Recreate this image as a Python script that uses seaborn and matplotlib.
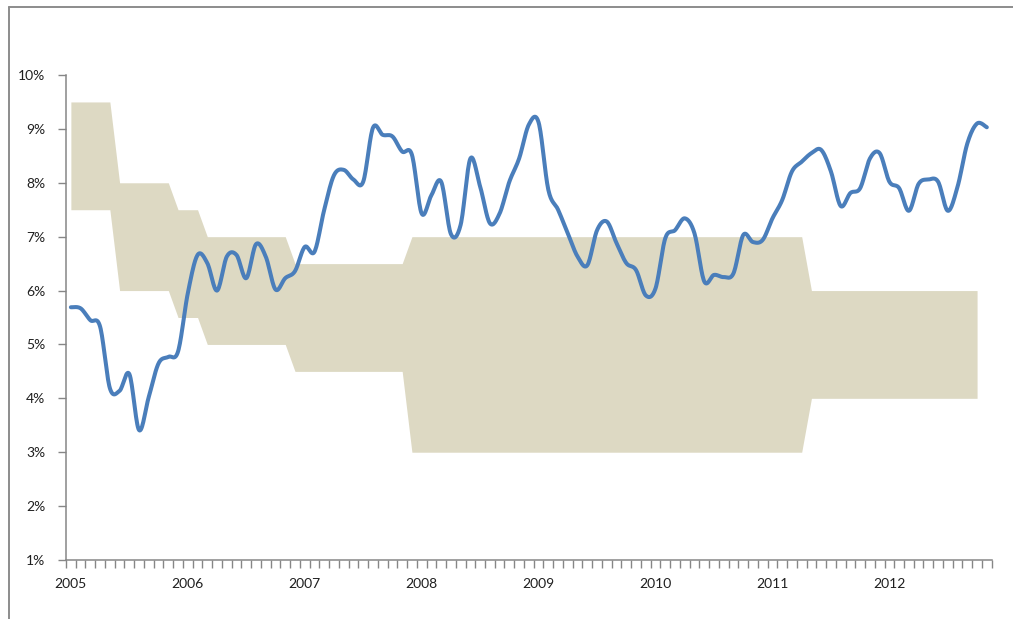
import numpy as np
import pandas as pd
import matplotlib
matplotlib.use("Agg")
import matplotlib.pyplot as plt
import seaborn as sns
from matplotlib.lines import Line2D

# ---------------- data (monthly, Jan 2005 .. Nov 2012) ----------------
year_labels = ["2005", "2006", "2007", "2008", "2009", "2010", "2011", "2012"]

rate = [
    5.69, 5.67, 5.45, 5.33, 4.19, 4.14, 4.45, 3.41, 4.03, 4.65, 4.77, 4.87,   # 2005
    5.95, 6.66, 6.51, 6.00, 6.63, 6.66, 6.23, 6.86, 6.63, 6.02, 6.23, 6.36,   # 2006
    6.81, 6.72, 7.50, 8.14, 8.24, 8.06, 8.02, 9.02, 8.89, 8.86, 8.58, 8.52,   # 2007
    7.43, 7.77, 8.02, 7.05, 7.22, 8.45, 7.93, 7.25, 7.43, 8.02, 8.45, 9.08,   # 2008
    9.12, 7.87, 7.50, 7.06, 6.63, 6.47, 7.12, 7.28, 6.88, 6.51, 6.38, 5.91,   # 2009
    6.04, 6.97, 7.12, 7.34, 7.06, 6.17, 6.29, 6.25, 6.32, 7.03, 6.90, 6.94,   # 2010
    7.34, 7.68, 8.21, 8.39, 8.55, 8.61, 8.21, 7.57, 7.81, 7.90, 8.45, 8.55,   # 2011
    8.02, 7.90, 7.48, 7.98, 8.06, 8.02, 7.48, 7.93, 8.73, 9.10, 9.03,         # 2012
]

band_upper = [9.5] * 5 + [8.0] * 6 + [7.5] * 3 + [7.0] * 9 + [6.5] * 12 + [7.0] * 41 + [6.0] * 18
band_lower = [7.5] * 5 + [6.0] * 6 + [5.5] * 3 + [5.0] * 9 + [4.5] * 12 + [3.0] * 41 + [4.0] * 18

y_ticks = [1, 2, 3, 4, 5, 6, 7, 8, 9, 10]

# ---------------- styling ----------------
W, H, DPI = 1013, 619, 100
sns.set_theme(style="white")
plt.rcParams["font.family"] = ["Lato", "DejaVu Sans"]

line_color = "#4A7EBB"
band_color = "#DDD9C3"
axis_color = "#868686"
text_color = "#1f1f1f"

fig = plt.figure(figsize=(W / DPI, H / DPI), dpi=DPI)
fig.patch.set_facecolor("white")
ax = fig.add_axes([66 / W, 1 - 560 / H, (991.7 - 66) / W, (560 - 75) / H])
ax.set_facecolor("white")

n = len(rate)

# band (area between lower & upper bounds)
bidx = np.arange(len(band_upper))
ax.fill_between(bidx, band_lower, band_upper, color=band_color, linewidth=0, zorder=1)

# smoothed line (Excel-style Catmull-Rom / Bezier smoothing between monthly points)
P = np.array(rate, dtype=float)
xs, ys = [], []
for i in range(n - 1):
    p0 = P[i - 1] if i > 0 else P[i]
    p1, p2 = P[i], P[i + 1]
    p3 = P[i + 2] if i + 2 < n else P[i + 1]
    x0 = i - 1 if i > 0 else i
    x3 = i + 2 if i + 2 < n else i + 1
    c1y = p1 + (p2 - p0) / 6.0
    c2y = p2 - (p3 - p1) / 6.0
    c1x = i + (i + 1 - x0) / 6.0
    c2x = (i + 1) - (x3 - i) / 6.0
    t = np.linspace(0, 1, 16, endpoint=(i == n - 2))
    bx = (1 - t) ** 3 * i + 3 * (1 - t) ** 2 * t * c1x + 3 * (1 - t) * t ** 2 * c2x + t ** 3 * (i + 1)
    by = (1 - t) ** 3 * p1 + 3 * (1 - t) ** 2 * t * c1y + 3 * (1 - t) * t ** 2 * c2y + t ** 3 * p2
    xs.extend(bx)
    ys.extend(by)
smooth = pd.DataFrame({"x": xs, "y": ys})
sns.lineplot(data=smooth, x="x", y="y", ax=ax, color=line_color, linewidth=2.9,
             sort=False, estimator=None, zorder=3)
ax.lines[-1].set_solid_capstyle("round")
ax.lines[-1].set_solid_joinstyle("round")

# axes limits
ax.set_xlim(-0.5, n - 0.5)
ax.set_ylim(1, 10)
ax.set_xlabel("")
ax.set_ylabel("")

# y axis
ax.set_yticks(y_ticks)
ax.set_yticklabels([f"{v}%" for v in y_ticks], color=text_color, fontsize=10)
ax.tick_params(axis="y", direction="out", length=6, width=1, color=axis_color, pad=9, left=True)

# x axis: category boundaries as tick marks, year labels centered on January
ax.set_xticks(np.arange(-0.5, n, 1.0), minor=True)
ax.set_xticks(np.arange(0, n, 12))
ax.set_xticklabels(year_labels, color=text_color, fontsize=10)
ax.tick_params(axis="x", which="major", length=0, pad=13, bottom=True)
ax.tick_params(axis="x", which="minor", direction="out", length=6, width=1, color=axis_color, bottom=True)

for side in ["top", "right"]:
    ax.spines[side].set_visible(False)
for side in ["left", "bottom"]:
    ax.spines[side].set_color(axis_color)
    ax.spines[side].set_linewidth(1.1)
ax.grid(False)

# chart-area frame (only top/left edges visible in the crop)
fig.add_artist(Line2D([8.5 / W, 8.5 / W], [0, 1 - 6.5 / H], transform=fig.transFigure,
                      color="#8c8c8c", linewidth=1.4))
fig.add_artist(Line2D([8.5 / W, 1], [1 - 6.5 / H, 1 - 6.5 / H], transform=fig.transFigure,
                      color="#8c8c8c", linewidth=1.4))

fig.savefig("out.png", dpi=DPI, facecolor="white")
